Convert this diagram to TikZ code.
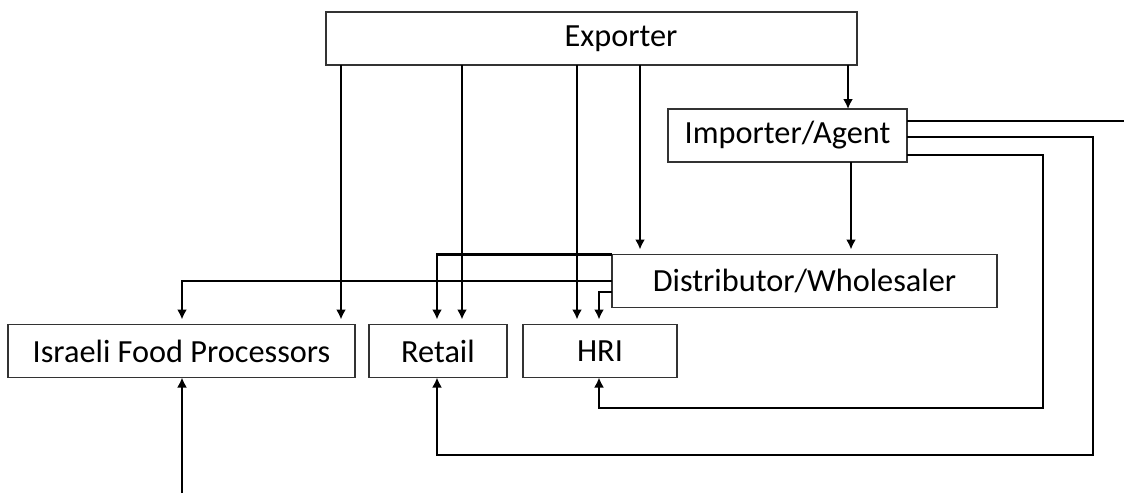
\documentclass[tikz,border=0pt]{standalone}
\usepackage{fontspec}
\setmainfont{Carlito}
\usetikzlibrary{arrows.meta}
\begin{document}
\begin{tikzpicture}[x=1pt,y=-1pt,
  box/.style={draw=black!80, line width=1.3pt, inner sep=0pt, outer sep=0pt,
    minimum height=53pt, font=\fontsize{32.3}{36}\selectfont, text=black},
  conn/.style={draw, line width=2.4pt, -{Latex[length=10pt,width=10pt]}},
  flow/.style={conn, shorten >=5pt},
  wire/.style={draw, line width=2.4pt}]
\useasboundingbox (0,0) rectangle (1124,493);

% boxes
\node[box, minimum width=531pt] (exp)  at (591.5,38.5) {\hspace*{59pt}Exporter};
\node[box, minimum width=239pt] (imp)  at (787.5,135.5) {Importer/Agent};
\node[box, minimum width=385pt] (dist) at (804.5,281) {Distributor/Wholesaler};
\node[box, minimum width=347pt] (ifp)  at (181.5,351) {Israeli Food Processors};
\node[box, minimum width=138pt] (ret)  at (438,351) {Retail};
\node[box, minimum width=154pt] (hri)  at (600,351) {HRI};

% column and row guides for the connectors
\coordinate (xa) at (341,0);
\coordinate (xb) at (462,0);
\coordinate (xc) at (577,0);
\coordinate (xd) at (640,0);
\coordinate (xe) at (848,0);
\coordinate (xf) at (851,0);
\coordinate (xg) at (437,0);
\coordinate (xi) at (599,0);
\coordinate (xj) at (1043,0);
\coordinate (xk) at (1093,0);
\coordinate (ya) at (0,408);
\coordinate (yb) at (0,455);
\coordinate (off) at (1124,121);
\coordinate (src) at (182,493);

% from the exporter
\draw[flow] (exp.south -| xa) -- (ifp.north -| xa);
\draw[flow] (exp.south -| xb) -- (ret.north -| xb);
\draw[flow] (exp.south -| xc) -- (hri.north -| xc);
\draw[flow] (exp.south -| xd) -- (dist.north -| xd);
\draw[conn] (exp.south -| xe) -- (imp.north -| xe);

% from the importer
\draw[flow] (imp.south -| xf) -- (dist.north -| xf);
\draw[wire] ([yshift=14.5pt]imp.east) -- (off);
\draw[conn] ([yshift=-1.5pt]imp.east) -| (yb -| xk) -| (ret.south -| xg);
\draw[conn] ([yshift=-19.5pt]imp.east) -| (ya -| xj) -| (hri.south -| xi);

% from the distributor
\draw[flow] (dist.north west) -| (ret.north -| xg);
\draw[flow] (dist.west) -| (ifp.north -| src);
\draw[flow] ([yshift=-11pt]dist.west) -| (hri.north -| xi);

% local supply into the processors
\draw[conn] (src) -- (ifp.south -| src);
\end{tikzpicture}
\end{document}
